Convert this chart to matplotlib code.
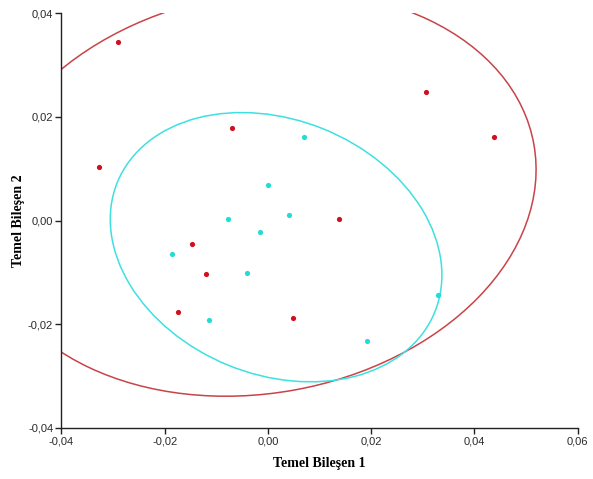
import numpy as np
import matplotlib
matplotlib.use("Agg")
import matplotlib.pyplot as plt
from matplotlib.patches import Ellipse
from matplotlib.ticker import FuncFormatter

# Group 1 (red)
red_x = [-0.0291, -0.0070, -0.0328, 0.0307, 0.0438, 0.0137, -0.0147, -0.0120, -0.0175, 0.0049]
red_y = [0.0344, 0.0179, 0.0104, 0.0248, 0.0161, 0.0003, -0.0045, -0.0104, -0.0177, -0.0189]
# Group 2 (cyan)
cyan_x = [0.0001, -0.0078, 0.0040, -0.0015, 0.0070, -0.0186, -0.0041, -0.0114, 0.0329, 0.0191]
cyan_y = [0.0068, 0.0003, 0.0011, -0.0022, 0.0162, -0.0065, -0.0102, -0.0192, -0.0143, -0.0233]

# Confidence ellipses: center x, center y, full width, full height, angle (deg)
red_ellipse = [-0.0018, 0.0052, 0.1083, 0.0771, 10.1]
cyan_ellipse = [0.00157, -0.00515, 0.0664, 0.0492, -22.1]

xticks = [-0.04, -0.02, 0.00, 0.02, 0.04, 0.06]
yticks = [-0.04, -0.02, 0.00, 0.02, 0.04]

RED = "#d0101e"
CYAN = "#22dcd6"
RED_LINE = "#c84448"
CYAN_LINE = "#3ee0e0"

fig = plt.figure(figsize=(5.93, 4.79), dpi=100)
ax = fig.add_axes([0.1037, 0.1071, 0.8705, 0.8651])

for params, col in ((red_ellipse, RED_LINE), (cyan_ellipse, CYAN_LINE)):
    e = Ellipse((params[0], params[1]), params[2], params[3], angle=params[4],
                fill=False, edgecolor=col, linewidth=1.1, zorder=2)
    ax.add_patch(e)

ax.scatter(red_x, red_y, s=14, color=RED, linewidths=0, zorder=3)
ax.scatter(cyan_x, cyan_y, s=14, color=CYAN, linewidths=0, zorder=3)

ax.set_xlim(-0.04, 0.06)
ax.set_ylim(-0.04, 0.04)
ax.set_xticks(xticks)
ax.set_yticks(yticks)
fmt = FuncFormatter(lambda v, p: f"{v:.2f}".replace(".", ",").replace("-0,00", "0,00"))
ax.xaxis.set_major_formatter(fmt)
ax.yaxis.set_major_formatter(fmt)

for side in ("top", "right"):
    ax.spines[side].set_visible(False)
for side in ("left", "bottom"):
    ax.spines[side].set_linewidth(1.0)
    ax.spines[side].set_color("#222222")

ax.tick_params(direction="out", length=4, width=1, color="#222222", pad=2,
               labelsize=8, labelcolor="#2a2a2a")
for lab in ax.get_xticklabels() + ax.get_yticklabels():
    lab.set_family(["Liberation Sans", "DejaVu Sans"])

ax.set_xlabel("Temel Bileşen 1", family=["Liberation Serif", "DejaVu Serif"],
              fontweight="bold", fontsize=10, labelpad=8)
ax.set_ylabel("Temel Bileşen 2", family=["Liberation Serif", "DejaVu Serif"],
              fontweight="bold", fontsize=10, labelpad=2)

fig.savefig("out.png", dpi=100)
